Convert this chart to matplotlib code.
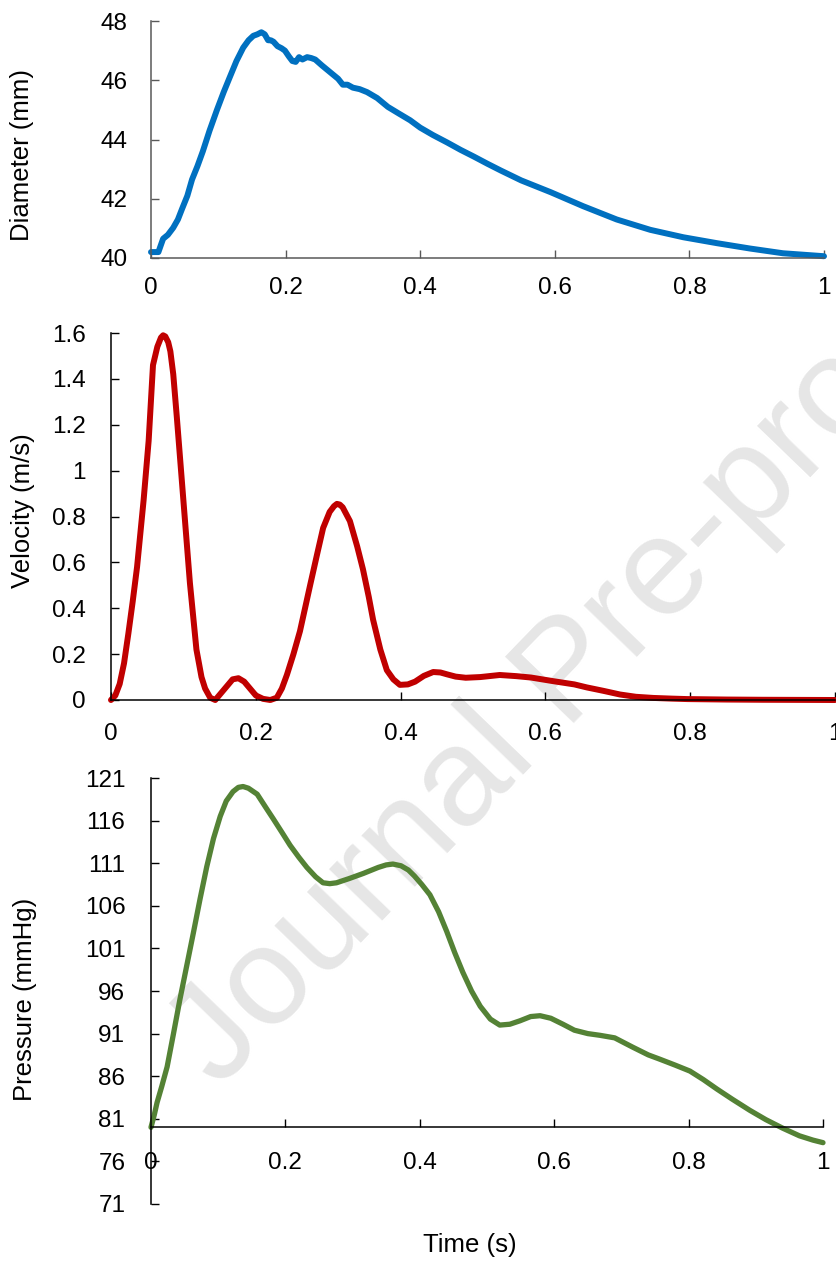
import matplotlib
matplotlib.use('Agg')
import matplotlib.pyplot as plt
from matplotlib.ticker import FuncFormatter
import numpy as np

plt.rcParams['font.family'] = ['Liberation Sans', 'DejaVu Sans']

# diameter trace (mm)
t_diam = [0.000, 0.011, 0.018, 0.025, 0.033, 0.040, 0.046, 0.054, 0.061, 0.069,
          0.077, 0.087, 0.098, 0.108, 0.117, 0.127, 0.137, 0.145, 0.152, 0.158,
          0.164, 0.169, 0.174, 0.178, 0.182, 0.188, 0.194, 0.199, 0.205, 0.210,
          0.215, 0.220, 0.225, 0.232, 0.238, 0.244, 0.254, 0.262, 0.270, 0.278,
          0.285, 0.292, 0.300, 0.310, 0.321, 0.336, 0.352, 0.368, 0.385, 0.400,
          0.419, 0.440, 0.460, 0.480, 0.500, 0.520, 0.550, 0.594, 0.642, 0.692,
          0.742, 0.791, 0.841, 0.890, 0.939, 1.000]
diameter = [40.20, 40.20, 40.65, 40.78, 41.02, 41.30, 41.65, 42.10, 42.65, 43.10,
            43.60, 44.30, 45.00, 45.60, 46.10, 46.65, 47.10, 47.35, 47.50, 47.55,
            47.62, 47.55, 47.35, 47.35, 47.30, 47.15, 47.08, 47.00, 46.80, 46.65,
            46.62, 46.78, 46.70, 46.78, 46.75, 46.70, 46.50, 46.35, 46.20, 46.05,
            45.85, 45.85, 45.75, 45.70, 45.60, 45.40, 45.10, 44.88, 44.65, 44.40,
            44.15, 43.90, 43.65, 43.42, 43.18, 42.95, 42.62, 42.22, 41.75, 41.30,
            40.95, 40.70, 40.50, 40.32, 40.16, 40.06]

# velocity trace (m/s)
t_vel = [0.000, 0.006, 0.012, 0.018, 0.024, 0.030, 0.036, 0.045, 0.052, 0.058,
         0.064, 0.069, 0.072, 0.075, 0.079, 0.082, 0.086, 0.091, 0.100, 0.109,
         0.118, 0.125, 0.130, 0.137, 0.144, 0.152, 0.160, 0.168, 0.176, 0.184,
         0.192, 0.200, 0.210, 0.220, 0.229, 0.236, 0.243, 0.252, 0.261, 0.268,
         0.275, 0.285, 0.293, 0.302, 0.308, 0.312, 0.316, 0.320, 0.330, 0.340,
         0.348, 0.356, 0.362, 0.372, 0.381, 0.390, 0.399, 0.410, 0.420, 0.432,
         0.445, 0.455, 0.464, 0.476, 0.490, 0.510, 0.537, 0.560, 0.580, 0.611,
         0.640, 0.657, 0.680, 0.703, 0.725, 0.749, 0.775, 0.796, 0.850, 0.900,
         1.000]
velocity = [0.00, 0.02, 0.07, 0.16, 0.29, 0.43, 0.58, 0.87, 1.13, 1.46,
            1.54, 1.58, 1.59, 1.585, 1.56, 1.52, 1.42, 1.23, 0.87, 0.51,
            0.22, 0.10, 0.05, 0.01, 0.00, 0.03, 0.06, 0.09, 0.095, 0.08,
            0.05, 0.02, 0.005, 0.00, 0.01, 0.05, 0.11, 0.20, 0.30, 0.40,
            0.50, 0.64, 0.75, 0.82, 0.845, 0.855, 0.852, 0.84, 0.78, 0.67,
            0.57, 0.45, 0.35, 0.22, 0.13, 0.09, 0.066, 0.068, 0.080, 0.105,
            0.122, 0.120, 0.112, 0.102, 0.097, 0.100, 0.109, 0.104, 0.098, 0.082,
            0.068, 0.055, 0.040, 0.024, 0.014, 0.009, 0.006, 0.004, 0.002, 0.001,
            0.000]

# pressure trace (mmHg)
t_pres = [0.000, 0.005, 0.009, 0.016, 0.024, 0.033, 0.043, 0.053, 0.063, 0.073,
          0.083, 0.093, 0.103, 0.112, 0.122, 0.130, 0.137, 0.145, 0.158, 0.172,
          0.182, 0.195, 0.207, 0.220, 0.232, 0.245, 0.256, 0.266, 0.276, 0.295,
          0.316, 0.338, 0.350, 0.360, 0.372, 0.383, 0.392, 0.403, 0.415, 0.428,
          0.440, 0.452, 0.464, 0.477, 0.490, 0.505, 0.519, 0.534, 0.549, 0.565,
          0.579, 0.595, 0.613, 0.630, 0.650, 0.668, 0.690, 0.717, 0.740, 0.757,
          0.780, 0.802, 0.822, 0.842, 0.865, 0.891, 0.915, 0.940, 0.965, 0.985,
          1.000]
pressure = [80.0, 81.5, 82.9, 84.8, 87.1, 90.8, 95.0, 98.9, 102.8, 106.8,
            110.6, 113.9, 116.5, 118.3, 119.4, 119.9, 120.0, 119.8, 119.1, 117.4,
            116.2, 114.6, 113.1, 111.7, 110.5, 109.4, 108.7, 108.6, 108.7, 109.2,
            109.8, 110.5, 110.8, 110.9, 110.7, 110.2, 109.5, 108.5, 107.3, 105.3,
            103.0, 100.5, 98.2, 96.0, 94.2, 92.7, 92.0, 92.1, 92.5, 93.0,
            93.1, 92.8, 92.1, 91.4, 91.0, 90.8, 90.5, 89.4, 88.5, 88.0,
            87.3, 86.6, 85.6, 84.5, 83.3, 82.0, 80.9, 79.9, 79.0, 78.5,
            78.2]

x_ticks = [0, 0.2, 0.4, 0.6, 0.8, 1]

W, H = 837, 1262
fig = plt.figure(figsize=(W / 100, H / 100), dpi=100)

def box(l, t, r, b):
    return [l / W, 1 - b / H, (r - l) / W, (b - t) / H]

fmt = FuncFormatter(lambda v, p: '%g' % round(v, 6))
fs = 17.5
lfs = 18.5

def style(ax, spine_col, xpad, ypad):
    ax.set_facecolor('none')
    for s in ['top', 'right']:
        ax.spines[s].set_visible(False)
    for s in ['left', 'bottom']:
        ax.spines[s].set_color(spine_col)
        ax.spines[s].set_linewidth(1.1)
    ax.set_xlim(0, 1)
    ax.set_xticks(x_ticks)
    ax.xaxis.set_major_formatter(fmt)
    ax.yaxis.set_major_formatter(fmt)
    ax.tick_params(axis='both', direction='in', length=5.5, width=1.0,
                   color=spine_col, labelsize=fs, labelcolor='black')
    ax.tick_params(axis='x', pad=xpad)
    ax.tick_params(axis='y', pad=ypad)

# diameter
ax1 = fig.add_axes(box(151, 21, 824, 258))
style(ax1, '#595959', 14, 17)
ax1.plot(t_diam, diameter, color='#0070C0', lw=4.3, clip_on=False,
         solid_joinstyle='round', solid_capstyle='round')
ax1.set_ylim(40, 48)
ax1.set_yticks(np.arange(40, 49, 2))
fig.text(22 / W, 1 - 155 / H, 'Diameter (mm)', rotation=90, ha='center',
         va='center', fontsize=lfs)

# velocity
ax2 = fig.add_axes(box(111, 333, 835, 700))
style(ax2, 'black', 16.5, 18)
ax2.plot(t_vel, velocity, color='#C00000', lw=4.3, clip_on=False,
         solid_joinstyle='round', solid_capstyle='round')
ax2.set_ylim(0, 1.6)
ax2.set_yticks(np.arange(0, 1.61, 0.2))
fig.text(23 / W, 1 - 511 / H, 'Velocity (m/s)', rotation=90, ha='center',
         va='center', fontsize=lfs)

# pressure
ax3 = fig.add_axes(box(151, 778, 823, 1204))
style(ax3, 'black', 18, 18.5)
ax3.spines['bottom'].set_position(('data', 80))
ax3.plot(t_pres, pressure, color='#548235', lw=3.8, clip_on=False,
         solid_joinstyle='round', solid_capstyle='round')
ax3.set_ylim(71, 121)
ax3.set_yticks(np.arange(71, 122, 5))
fig.text(25 / W, 1 - 999 / H, 'Pressure (mmHg)', rotation=90, ha='center',
         va='center', fontsize=lfs)
fig.text(470 / W, 1 - 1245 / H, 'Time (s)', ha='center', va='center', fontsize=lfs)

# watermark behind everything
fig.text(596 / W, 1 - 700 / H, 'Journal Pre-proof', rotation=46,
         rotation_mode='anchor', ha='center', va='baseline', fontsize=101,
         color='#E6E6E6', zorder=-5)

fig.savefig('out.png', dpi=100)
